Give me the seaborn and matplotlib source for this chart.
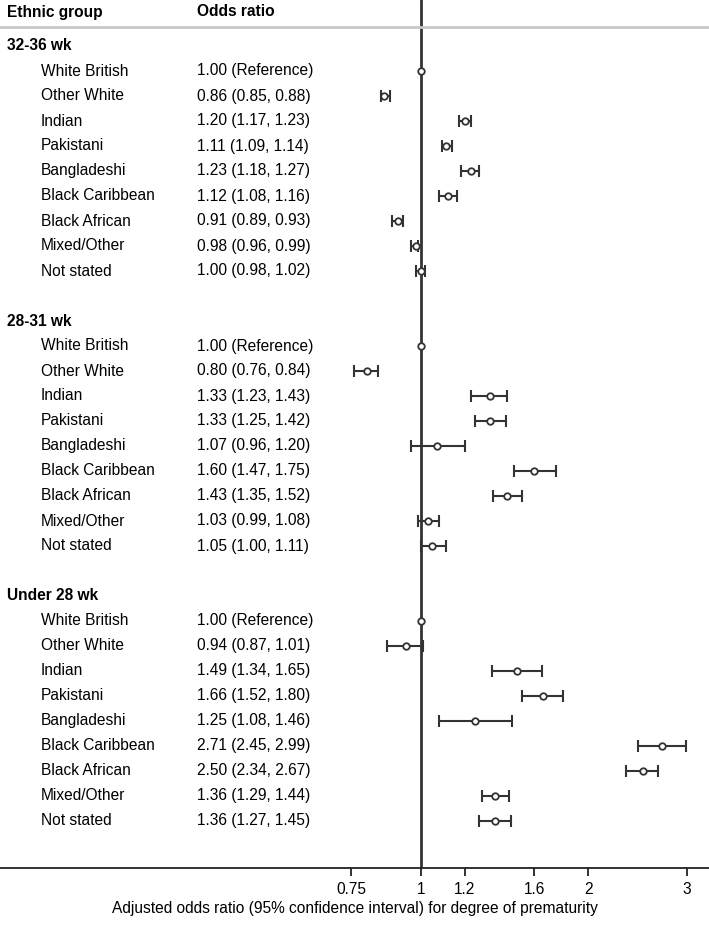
import numpy as np
import pandas as pd
import seaborn as sns
from matplotlib import pyplot as plt
from matplotlib.ticker import FixedLocator, NullLocator

# data
groups = ["32-36 wk", "28-31 wk", "Under 28 wk"]
ethnic = ["White British", "Other White", "Indian", "Pakistani", "Bangladeshi",
          "Black Caribbean", "Black African", "Mixed/Other", "Not stated"]

or_32_36 = [1.00, 0.86, 1.20, 1.11, 1.23, 1.12, 0.91, 0.98, 1.00]
lo_32_36 = [np.nan, 0.85, 1.17, 1.09, 1.18, 1.08, 0.89, 0.96, 0.98]
hi_32_36 = [np.nan, 0.88, 1.23, 1.14, 1.27, 1.16, 0.93, 0.99, 1.02]

or_28_31 = [1.00, 0.80, 1.33, 1.33, 1.07, 1.60, 1.43, 1.03, 1.05]
lo_28_31 = [np.nan, 0.76, 1.23, 1.25, 0.96, 1.47, 1.35, 0.99, 1.00]
hi_28_31 = [np.nan, 0.84, 1.43, 1.42, 1.20, 1.75, 1.52, 1.08, 1.11]

or_u28 = [1.00, 0.94, 1.49, 1.66, 1.25, 2.71, 2.50, 1.36, 1.36]
lo_u28 = [np.nan, 0.87, 1.34, 1.52, 1.08, 2.45, 2.34, 1.29, 1.27]
hi_u28 = [np.nan, 1.01, 1.65, 1.80, 1.46, 2.99, 2.67, 1.44, 1.45]

xticks = [0.75, 1, 1.2, 1.6, 2, 3]
xtick_labels = ["0.75", "1", "1.2", "1.6", "2", "3"]

# table
rows = []
for g, (o, l, h) in enumerate([(or_32_36, lo_32_36, hi_32_36),
                               (or_28_31, lo_28_31, hi_28_31),
                               (or_u28, lo_u28, hi_u28)]):
    for i, name in enumerate(ethnic):
        rows.append({"group": groups[g], "ethnic": name, "row": g * 11 + 1 + i,
                     "or": o[i], "lo": l[i], "hi": h[i]})
df = pd.DataFrame(rows)

sns.set_theme(style="white")
plt.rcParams["font.family"] = ["Liberation Sans", "DejaVu Sans"]
plt.rcParams["text.color"] = "black"
plt.rcParams["xtick.color"] = "black"
plt.rcParams["axes.labelcolor"] = "black"

dark = "#333333"
fig = plt.figure(figsize=(7.09, 9.27), dpi=100)
ax = fig.add_axes([0, 59 / 927, 1, 868 / 927])

ax.set_xscale("log")
ax.set_xlim(0.176, 3.29)
ax.set_ylim(32.88, -1.84)

# reference line
ax.axvline(1, color=dark, lw=2, zorder=1)

# CI bars
ci = df.dropna(subset=["lo"])
ax.errorbar(ci["or"], ci["row"], xerr=[ci["or"] - ci["lo"], ci["hi"] - ci["or"]],
            fmt="none", ecolor=dark, elinewidth=1.5, capsize=4, capthick=1.5, zorder=2)
sns.scatterplot(data=df, x="or", y="row", ax=ax, marker="o", s=22,
                facecolor="white", edgecolor=dark, linewidth=1.3, zorder=3, legend=False)

# text columns
tr = ax.get_yaxis_transform()
fs = 11.2
ax.text(7 / 709, -1.36, "Ethnic group", transform=tr, fontsize=fs, weight="bold", va="center")
ax.text(197 / 709, -1.36, "Odds ratio", transform=tr, fontsize=fs, weight="bold", va="center")
ax.plot([0, 1], [-0.76, -0.76], transform=tr, color="#c8c8c8", lw=2, clip_on=False)
for g, name in enumerate(groups):
    ax.text(7 / 709, g * 11, name, transform=tr, fontsize=fs, weight="bold", va="center")
for _, r in df.iterrows():
    ax.text(41 / 709, r["row"], r["ethnic"], transform=tr, fontsize=fs, va="center")
    if np.isnan(r["lo"]):
        lab = f"{r['or']:.2f} (Reference)"
    else:
        lab = f"{r['or']:.2f} ({r['lo']:.2f}, {r['hi']:.2f})"
    ax.text(197 / 709, r["row"], lab, transform=tr, fontsize=fs, va="center")

# axes styling
for s in ["top", "right", "left"]:
    ax.spines[s].set_visible(False)
ax.spines["bottom"].set_color("#222222")
ax.spines["bottom"].set_linewidth(1.3)
ax.xaxis.set_major_locator(FixedLocator(xticks))
ax.xaxis.set_minor_locator(NullLocator())
ax.set_xticklabels(xtick_labels, fontsize=fs)
ax.tick_params(axis="x", direction="out", length=6, width=1.3, color="#222222", pad=4, bottom=True)
ax.set_yticks([])
ax.set_ylabel("")
ax.set_xlabel("Adjusted odds ratio (95% confidence interval) for degree of prematurity",
              fontsize=fs, labelpad=3)

plt.savefig("out.png", dpi=100)
